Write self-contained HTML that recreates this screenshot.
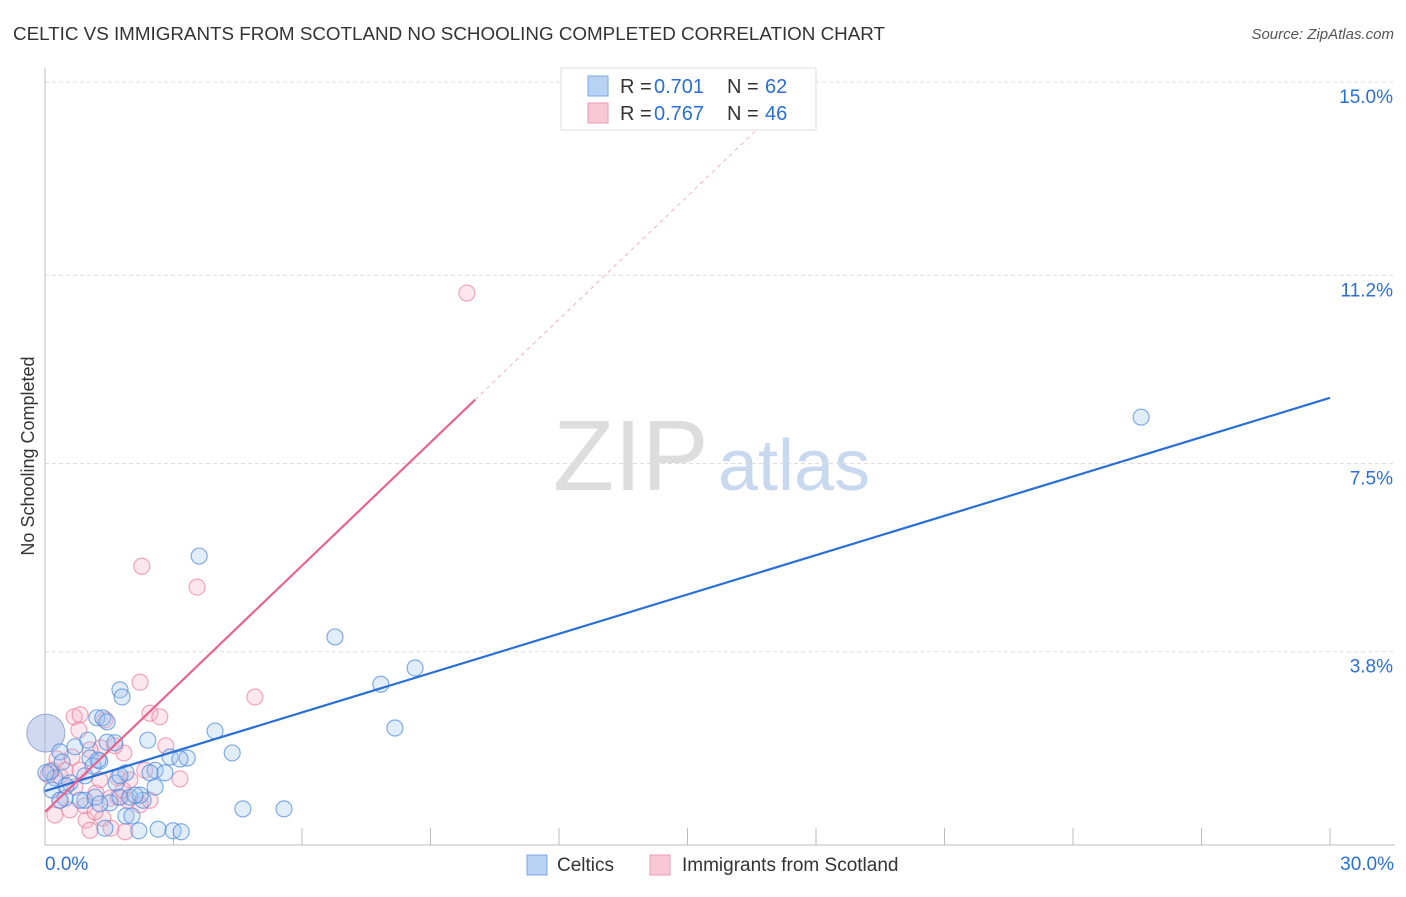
<!DOCTYPE html>
<html><head><meta charset="utf-8"><style>
body{margin:0;background:#fff;font-family:"Liberation Sans",sans-serif;}
svg text{font-family:"Liberation Sans",sans-serif;}
</style></head><body>
<svg id="chart" width="1406" height="892" xmlns="http://www.w3.org/2000/svg">
<text x="13" y="40" font-size="18" fill="#333" textLength="872" lengthAdjust="spacingAndGlyphs">CELTIC VS IMMIGRANTS FROM SCOTLAND NO SCHOOLING COMPLETED CORRELATION CHART</text>
<text x="1394" y="39" font-size="15" fill="#555" text-anchor="end" font-style="italic">Source: ZipAtlas.com</text>
<text transform="translate(34,456) rotate(-90)" font-size="18" fill="#333" text-anchor="middle">No Schooling Completed</text>
<g>
<text x="553" y="490" font-size="100" fill="#ddd" font-family="Liberation Serif">ZIP</text>
<text x="718" y="490" font-size="72" fill="#c8d8ee">atlas</text>
</g>
<g id="grid"></g>
<g id="axes"></g>
<g id="pts"></g>
<g id="lines"></g>
<g>
<rect x="561" y="68" width="255" height="62" fill="#fff" stroke="#ddd"/>
<rect x="588" y="76" width="20" height="20" fill="#b8d2f4" stroke="#7aa7e4"/>
<text x="620" y="93" font-size="20" fill="#333">R =</text>
<text x="654" y="93" font-size="20" fill="#2a6fd6">0.701</text>
<text x="727" y="93" font-size="20" fill="#333">N =</text>
<text x="765" y="93" font-size="20" fill="#2a6fd6">62</text>
<rect x="588" y="103" width="20" height="20" fill="#f8c8d6" stroke="#ec9ab2"/>
<text x="620" y="120" font-size="20" fill="#333">R =</text>
<text x="654" y="120" font-size="20" fill="#2a6fd6">0.767</text>
<text x="727" y="120" font-size="20" fill="#333">N =</text>
<text x="765" y="120" font-size="20" fill="#2a6fd6">46</text>
</g>
<g>
<rect x="527" y="855" width="20" height="20" fill="#b8d2f4" stroke="#7aa7e4"/>
<text x="557" y="871" font-size="19" fill="#333">Celtics</text>
<rect x="650" y="855" width="20" height="20" fill="#f8c8d6" stroke="#ec9ab2"/>
<text x="682" y="871" font-size="19" fill="#333">Immigrants from Scotland</text>
</g>
</svg>
<script>
const yTicks=[15.0,11.2,7.5,3.8];
const yTickLabels=["15.0%","11.2%","7.5%","3.8%"];
const xTickLabels=["0.0%","30.0%"];
const celticX=[3.60,6.77,8.64,7.84,8.17,25.59,1.75,1.80,3.97,4.37,2.40,3.32,2.92,2.57,2.45,2.80,1.21,1.35,1.45,1.63,0.35,0.70,1.05,1.28,1.12,0.40,0.23,0.12,0.58,0.49,0.93,1.17,1.52,1.75,1.98,2.29,2.57,0.82,0.47,1.89,2.03,1.40,2.19,2.64,2.99,3.18,4.62,5.58,1.24,3.15,1.89,1.66,2.22,1.28,0.93,0.02,0.16,1.00,1.45,1.75,2.10,0.35];
const celticY=[5.68,4.09,3.48,3.16,2.30,8.41,3.05,2.91,2.24,1.81,2.06,1.71,1.73,1.47,1.42,1.42,2.50,2.50,2.42,2.01,1.83,1.93,1.71,1.65,1.55,1.63,1.32,1.44,1.22,1.16,0.88,0.94,0.83,0.94,0.94,0.88,1.14,0.88,0.92,0.57,0.57,0.33,0.28,0.31,0.28,0.26,0.71,0.71,1.67,1.69,1.42,1.22,0.98,0.81,1.36,1.42,1.08,2.06,2.02,1.36,0.98,0.88];
const scotX=[9.85,2.26,3.55,2.22,4.90,2.45,2.68,0.68,0.82,1.40,2.82,1.84,1.31,1.05,0.79,0.63,0.28,0.16,0.35,0.07,0.82,1.70,1.98,3.15,1.70,1.94,1.19,1.52,0.58,0.93,0.96,1.35,1.87,1.54,1.63,1.82,0.47,1.28,2.33,0.70,1.17,0.35,2.22,2.45,1.05,0.23];
const scotY=[10.85,5.48,5.07,3.20,2.91,2.59,2.52,2.52,2.56,2.46,1.95,1.81,1.91,1.87,2.26,1.73,1.69,1.47,1.36,1.38,1.47,1.32,1.28,1.30,0.94,0.88,1.02,0.92,0.69,0.77,0.49,0.53,0.26,0.33,1.95,1.08,1.47,1.28,1.47,1.14,0.65,0.88,0.79,0.88,0.29,0.59];
const celticTrend=[1.06,8.79];
const scotTrend=[0.65,0.807];
const NS="http://www.w3.org/2000/svg";
const X=v=>45+v/30*1285, Y=v=>845-v*50.87;
function mk(t,a,p){const e=document.createElementNS(NS,t);for(const k in a)e.setAttribute(k,a[k]);p.appendChild(e);return e;}
const grid=document.getElementById('grid'),axes=document.getElementById('axes'),pts=document.getElementById('pts'),lines=document.getElementById('lines');
yTicks.forEach((v,i)=>{
 const l=mk('line',{x1:45,x2:1395,y1:Y(v),y2:Y(v),stroke:'#ddd','stroke-dasharray':'4,3'},grid);
 
 
 const t=mk('text',{x:1393,y:Y(v)+21,'font-size':19,fill:'#2a6fd6','text-anchor':'end'},grid);
 t.textContent=yTickLabels[i];
 
 
});
const ax=mk('line',{x1:45,x2:1395,y1:845,y2:845,stroke:'#bbb'},axes);


const ay=mk('line',{x1:45,x2:45,y1:68,y2:845,stroke:'#bbb'},axes);


for(let k=1;k<=10;k++){const tk=mk('line',{x1:X(k*3),x2:X(k*3),y1:828,y2:845,stroke:'#bbb'},axes);
 
 }
const t0=mk('text',{x:45,y:870,'font-size':19,fill:'#2a6fd6'},axes);t0.textContent=xTickLabels[0];


const t1=mk('text',{x:1394,y:870,'font-size':19,fill:'#2a6fd6','text-anchor':'end'},axes);t1.textContent=xTickLabels[1];


const big1=mk('circle',{cx:X(0.02),cy:Y(2.2),r:19,fill:'rgba(150,170,220,0.45)',stroke:'rgba(120,140,200,0.7)'},pts);


scotX.forEach((v,i)=>{const c=mk('circle',{cx:X(v),cy:Y(scotY[i]),r:8,fill:'rgba(246,176,198,0.3)',stroke:'rgba(234,130,160,0.7)','stroke-width':1.2},pts);
 
 });
celticX.forEach((v,i)=>{const c=mk('circle',{cx:X(v),cy:Y(celticY[i]),r:8,fill:'rgba(160,196,240,0.3)',stroke:'rgba(80,140,220,0.7)','stroke-width':1.2},pts);
 
 });
const bl=mk('line',{x1:X(0),y1:Y(celticTrend[0]),x2:X(30),y2:Y(celticTrend[1]),stroke:'#2a6fd6','stroke-width':2.2},lines);


const xe=10.04, xd=(15-scotTrend[0])/scotTrend[1];
const pl=mk('line',{x1:X(0),y1:Y(scotTrend[0]),x2:X(xe),y2:Y(scotTrend[0]+scotTrend[1]*xe),stroke:'#e8648c','stroke-width':2.2},lines);


const pd=mk('line',{x1:X(xe),y1:Y(scotTrend[0]+scotTrend[1]*xe),x2:X(xd),y2:Y(15),stroke:'#f0b0c4','stroke-width':1,'stroke-dasharray':'4,4'},lines);


</script>
</body></html>
